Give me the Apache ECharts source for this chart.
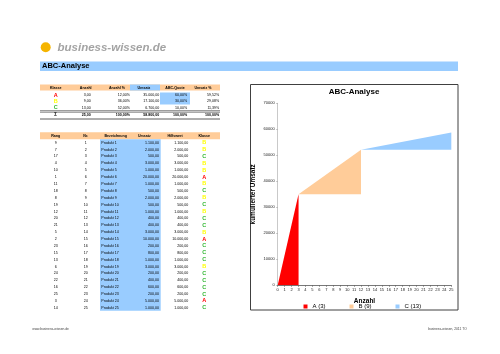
<!DOCTYPE html>
<html>
<head>
<meta charset="utf-8">
<script src="https://cdn.jsdelivr.net/npm/echarts@6/dist/echarts.min.js"></script>
<style>
  html, body { margin: 0; padding: 0; background: #fff; }
  #main { width: 500px; height: 354px; }
</style>
</head>
<body>
<div id="main"></div>
<script>
// Einzelwerte je Produkt
const nr = [1, 2, 3, 4, 5, 6, 7, 8, 9, 10, 11, 12, 13, 14, 15, 16, 17, 18, 19, 20, 21, 22, 23, 24, 25];
const umsatz = [1100, 2000, 500, 3000, 1000, 20000, 1000, 500, 2000, 500, 1000, 400, 400, 3000, 10000, 200, 800, 1000, 3000, 200, 400, 600, 200, 5000, 1000];
const rang = [9, 7, 17, 4, 10, 1, 11, 18, 8, 19, 12, 20, 21, 5, 2, 23, 15, 13, 6, 24, 22, 16, 25, 3, 14];
const klasse = ['B', 'B', 'C', 'B', 'B', 'A', 'B', 'C', 'B', 'C', 'B', 'C', 'C', 'B', 'A', 'C', 'C', 'C', 'B', 'C', 'C', 'C', 'C', 'A', 'C'];

// Zusammenfassung je Klasse
const klassen = ['A', 'B', 'C'];
const anzahl = [3, 9, 13];
const anzahlProz = [12, 36, 52];
const umsatzKlasse = [35000, 17100, 6700];
const abcQuote = [60, 30, 10];
const umsatzProz = [59.52, 29.08, 11.39];
const summe = [25, 100, 58800, 100, 100];

// kumulierter Umsatz (Anfang/Ende je Klasse)
const aX = [0, 3], aY = [0, 35000];
const bX = [3, 12], bY = [35000, 52100];
const cX = [12, 25], cY = [52100, 58800];
const legendNames = ['A (3)', 'B (9)', 'C (13)'];

const FONT = '"Liberation Sans", Arial, sans-serif';
const klasseFarbe = { A: '#ff0000', B: '#ffff00', C: '#33b833' };

// deutsche Zahlenformatierung: 1.234,00
function de(v) {
  const parts = v.toFixed(2).split('.');
  parts[0] = parts[0].replace(/\B(?=(\d{3})+(?!\d))/g, '.');
  return parts.join(',');
}

function txt(s, x, y, align, opts) {
  opts = opts || {};
  return {
    type: 'text', silent: true, x: x, y: y,
    style: {
      text: s, fill: opts.fill || '#000', align: align, verticalAlign: 'middle',
      fontSize: opts.size || 3.6, fontWeight: opts.bold ? 'bold' : 'normal',
      fontStyle: opts.italic ? 'italic' : 'normal', fontFamily: FONT
    }
  };
}
function rect(x, y, w, h, fill) {
  return { type: 'rect', silent: true, z: -1, shape: { x: x, y: y, width: w, height: h }, style: { fill: fill } };
}
function line(x1, y1, x2, y2, w) {
  return { type: 'line', silent: true, shape: { x1: x1, y1: y1, x2: x2, y2: y2 }, style: { stroke: '#333', lineWidth: w } };
}

const g = [];
// Logo und Kopf
g.push({ type: 'circle', silent: true, shape: { cx: 45.7, cy: 47.3, r: 5 }, style: { fill: '#f5b400' } });
g.push(txt('business-wissen.de', 57.5, 47.5, 'left', { size: 11.5, bold: true, italic: true, fill: '#a3a3a3' }));
g.push(rect(40, 61.5, 418, 9.5, '#99ccff'));
g.push(txt('ABC-Analyse', 42, 66.3, 'left', { size: 7.5, bold: true }));

// Zusammenfassung
g.push(rect(40, 84.5, 180, 6, '#ffcc99'));
g.push(rect(130, 84.5, 30, 6, '#99ccff'));
g.push(rect(160, 92.5, 30, 12, '#99ccff'));
const sumHead = [['Klasse', 55.7], ['Anzahl', 85.7], ['Anzahl %', 117], ['Umsatz', 144], ['ABC-Quote', 175], ['Umsatz %', 203]];
sumHead.forEach(h => g.push(txt(h[0], h[1], 87.6, 'center', { bold: true })));
klassen.forEach((k, i) => {
  const y = 95.2 + i * 6.2;
  g.push(txt(k, 55.7, y, 'center', { size: 5.5, bold: true, fill: klasseFarbe[k] }));
  g.push(txt(de(anzahl[i]), 90.7, y, 'right'));
  g.push(txt(de(anzahlProz[i]) + '%', 130, y, 'right'));
  g.push(txt(de(umsatzKlasse[i]), 159.3, y, 'right'));
  g.push(txt(de(abcQuote[i]) + '%', 187.3, y, 'right'));
  g.push(txt(de(umsatzProz[i]) + '%', 219.3, y, 'right'));
});
g.push(line(40, 110.7, 220, 110.7, 0.6));
g.push(line(40, 112.2, 220, 112.2, 0.6));
g.push(txt('\u03A3', 55.7, 114.8, 'center', { size: 4.5, bold: true }));
g.push(txt(de(summe[0]), 90.7, 114.8, 'right', { bold: true }));
g.push(txt(de(summe[1]) + '%', 130, 114.8, 'right', { bold: true }));
g.push(txt(de(summe[2]), 159.3, 114.8, 'right', { bold: true }));
g.push(txt(de(summe[3]) + '%', 187.3, 114.8, 'right', { bold: true }));
g.push(txt(de(summe[4]) + '%', 219.3, 114.8, 'right', { bold: true }));
g.push(line(40, 119, 220, 119, 0.8));

// Produkttabelle
g.push(rect(40, 132.3, 180, 7, '#ffcc99'));
g.push(rect(100, 139.3, 60.7, 171.4, '#99ccff'));
const detHead = [['Rang', 55.7], ['Nr.', 85.7], ['Bezeichnung', 115.7], ['Umsatz', 144.3], ['Hilfswert', 175], ['Klasse', 204.3]];
detHead.forEach(h => g.push(txt(h[0], h[1], 135.9, 'center', { bold: true })));
nr.forEach((n, i) => {
  const y = 142.7 + i * 6.88;
  g.push(txt(String(rang[i]), 55.7, y, 'center'));
  g.push(txt(String(n), 85.7, y, 'center'));
  g.push(txt('Produkt ' + n, 101.3, y, 'left'));
  g.push(txt(de(umsatz[i]), 159, y, 'right'));
  g.push(txt(de(umsatz[i]), 188.3, y, 'right'));
  g.push(txt(klasse[i], 204.3, y, 'center', { size: 5.5, bold: true, fill: klasseFarbe[klasse[i]] }));
});

// Rahmen des Diagramms
g.push({ type: 'rect', silent: true, shape: { x: 250.5, y: 84.5, width: 207.5, height: 225.5 }, style: { fill: null, stroke: '#404040', lineWidth: 1 } });

// Fusszeile
g.push(txt('www.business-wissen.de', 32.3, 329.3, 'left', { size: 3.3, fill: '#444' }));
g.push(txt('business-wissen, 2011 TO', 466.7, 329.3, 'right', { size: 3.3, fill: '#444' }));

function pairs(xs, ys) { return xs.map((x, i) => [x, ys[i]]); }

const chart = echarts.init(document.getElementById('main'), null, { renderer: 'canvas' });
chart.setOption({
  animation: false,
  backgroundColor: '#fff',
  textStyle: { fontFamily: FONT },
  title: {
    text: 'ABC-Analyse', left: 354, top: 87.5, textAlign: 'center', padding: 0,
    textStyle: { fontSize: 8, fontWeight: 'bold', color: '#000', fontFamily: FONT }
  },
  grid: { left: 277.7, right: 48.7, top: 103.3, bottom: 68.7, containLabel: false },
  xAxis: {
    type: 'value', min: 0, max: 25, interval: 1,
    name: 'Anzahl', nameLocation: 'middle', nameGap: 12.5,
    nameTextStyle: { fontSize: 6.5, fontWeight: 'bold', color: '#000' },
    axisLine: { lineStyle: { color: '#555', width: 0.8 } },
    axisTick: { show: true, length: 1.5, lineStyle: { color: '#555', width: 0.6 } },
    axisLabel: { fontSize: 4, color: '#222', margin: 3 },
    splitLine: { show: false }
  },
  yAxis: {
    type: 'value', min: 0, max: 70000, interval: 10000,
    name: 'kumulierter Umsatz', nameLocation: 'middle', nameGap: 21, nameRotate: 90,
    nameTextStyle: { fontSize: 6.5, fontWeight: 'bold', color: '#000' },
    axisLine: { show: true, lineStyle: { color: '#bbb', width: 0.8 } },
    axisTick: { show: true, length: 1.5, lineStyle: { color: '#999', width: 0.6 } },
    axisLabel: { fontSize: 4, color: '#222', margin: 3, formatter: v => String(v) },
    splitLine: { show: false }
  },
  legend: {
    data: legendNames, left: 303.5, top: 303.5, itemWidth: 4, itemHeight: 4, itemGap: 24,
    icon: 'rect', padding: 0,
    textStyle: { fontSize: 6, color: '#000', fontFamily: FONT }
  },
  series: [
    { name: legendNames[0], type: 'line', data: pairs(aX, aY), symbol: 'none', color: '#ff0000',
      lineStyle: { width: 0 }, areaStyle: { color: '#ff0000', opacity: 1, origin: 0 } },
    { name: legendNames[1], type: 'line', data: pairs(bX, bY), symbol: 'none', color: '#ffcc99',
      lineStyle: { width: 0 }, areaStyle: { color: '#ffcc99', opacity: 1, origin: bY[0] } },
    { name: legendNames[2], type: 'line', data: pairs(cX, cY), symbol: 'none', color: '#99ccff',
      lineStyle: { width: 0 }, areaStyle: { color: '#99ccff', opacity: 1, origin: cY[0] } }
  ],
  graphic: g
});
</script>
</body>
</html>
